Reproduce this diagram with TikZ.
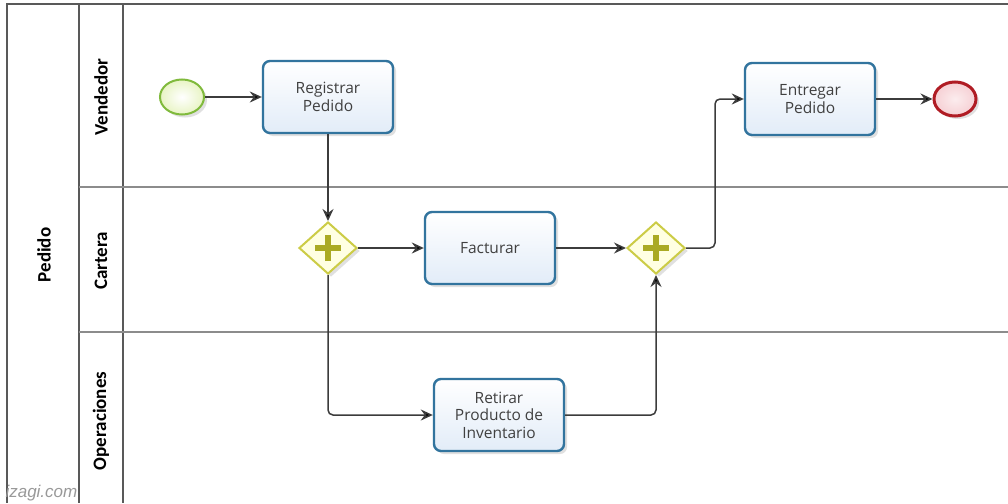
\documentclass[tikz,border=0pt]{standalone}
\usepackage{fontspec}
\setmainfont{Open Sans}
\newfontfamily\lanefont{Carlito}
\newfontfamily\markfont{Liberation Sans}
\usetikzlibrary{arrows.meta,shapes.geometric,shadows}

\definecolor{taskline}{RGB}{50,116,158}
\definecolor{taskfill}{RGB}{226,236,248}
\definecolor{tasktext}{RGB}{64,64,64}
\definecolor{startline}{RGB}{128,186,60}
\definecolor{startfill}{RGB}{232,244,196}
\definecolor{endline}{RGB}{176,28,36}
\definecolor{endfill}{RGB}{246,208,212}
\definecolor{gateline}{RGB}{204,204,70}
\definecolor{gatefill}{RGB}{255,255,226}
\definecolor{gateplus}{RGB}{170,170,36}
\definecolor{flowgray}{RGB}{60,60,60}

\begin{document}
\begin{tikzpicture}[x=1pt,y=-1pt,
  soft/.style={drop shadow={shadow xshift=3pt,shadow yshift=-3pt,fill=black!40,opacity=.3}},
  task/.style={draw=taskline,line width=2.4pt,rounded corners=7pt,
    top color=white,bottom color=taskfill,soft,
    minimum width=130pt,minimum height=72pt,inner sep=2pt,align=center,
    text=tasktext,font=\fontsize{15.5}{17.5}\selectfont},
  startev/.style={ellipse,draw=startline,line width=2pt,soft,
    inner color=white,outer color=startfill,minimum width=44pt,minimum height=35pt},
  endev/.style={ellipse,draw=endline,line width=3pt,soft,
    inner color=endfill!40,outer color=endfill,minimum width=42pt,minimum height=34pt},
  gate/.style={diamond,draw=gateline,line width=2pt,fill=gatefill,soft,
    inner sep=0pt,minimum width=58pt,minimum height=52pt},
  plus/.style={gateplus,line width=6.5pt},
  flow/.style={draw=flowgray,line width=1.5pt,rounded corners=5pt,
    -{Stealth[length=12pt,width=11pt,inset=4pt,fill=black]}},
  frame/.style={draw=black!65,line width=1.5pt},
  lane/.style={draw=black!45,line width=1.2pt},
  lanelabel/.style={rotate=90,font=\lanefont\bfseries\fontsize{19}{22}\selectfont}]
\useasboundingbox (0,0) rectangle (1008,503);
\fill[white] (0,0) rectangle (1008,503);

\draw[frame] (1008,4)--(7,4)--(7,503);
\draw[frame] (79,4)--(79,503);
\draw[frame] (123,4)--(123,503);
\draw[lane] (79,187)--(1008,187);
\draw[lane] (79,332)--(1008,332);

\node[lanelabel] (pool) at (44,255) {Pedido};
\node[lanelabel] (vend) at (101,97) {Vendedor};
\node[lanelabel] (cart) at (101,261) {Cartera};
\node[lanelabel] (oper) at (101,421) {Operaciones};

\node[startev] (start) at (182,97) {};
\node[task] (reg) at (328,97) {Registrar\\Pedido};
\node[gate] (g1) at (328,248) {};
\node[task] (fact) at (490,248) {Facturar};
\node[task] (ret) at (499,415) {Retirar\\Producto de\\Inventario};
\node[gate] (g2) at (656,248) {};
\node[task] (ent) at (810,99) {Entregar\\Pedido};
\node[endev] (end) at (955,99) {};

\foreach \g in {g1,g2}{
  \draw[plus] ([xshift=-13pt]\g.center)--([xshift=13pt]\g.center);
  \draw[plus] ([yshift=-13pt]\g.center)--([yshift=13pt]\g.center);
}

\draw[flow] (start)--(reg);
\draw[flow] (reg)--(g1);
\draw[flow] (g1)--(fact);
\draw[flow] (g1.south) |- (ret.west);
\draw[flow] (fact)--(g2);
\draw[flow] (ret.east) -| (g2.south);
\draw[flow] (g2.east) -- ++(29,0) |- (ent.west);
\draw[flow] (ent)--(end);

\node[font=\markfont\itshape\fontsize{17}{20}\selectfont,text=black!40,anchor=base west] (mark) at (2,497) {izagi.com};
\end{tikzpicture}
\end{document}
